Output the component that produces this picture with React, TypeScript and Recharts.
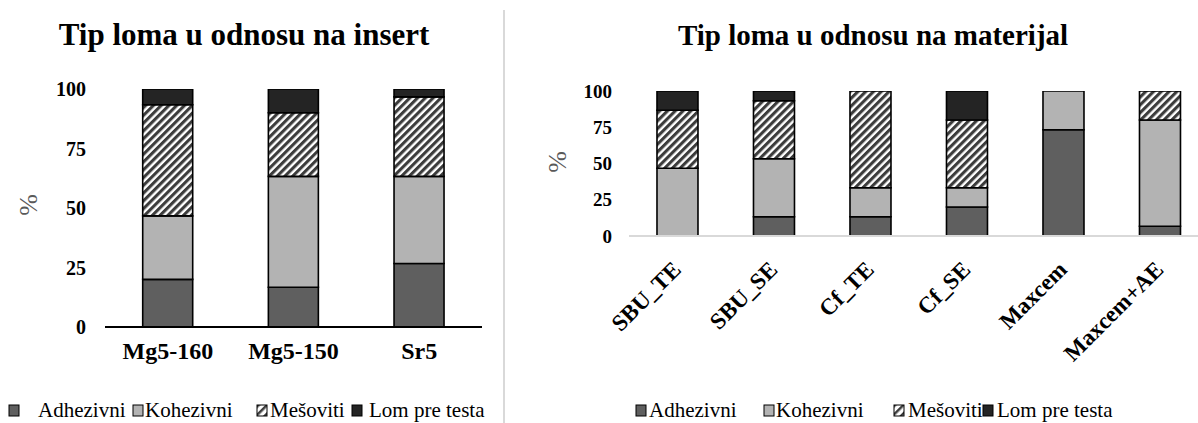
import React from 'react';
import { BarChart, Bar, XAxis, YAxis } from 'recharts';

// Share of failure types (%) per insert
const insertCategories = ['Mg5-160', 'Mg5-150', 'Sr5'];
const insertAdhezivni = [20, 16.7, 26.7];
const insertKohezivni = [26.7, 46.6, 36.6];
const insertMesoviti = [46.7, 26.7, 33.4];
const insertLom = [6.6, 10, 3.3];

// Share of failure types (%) per material
const materialCategories = ['SBU_TE', 'SBU_SE', 'Cf_TE', 'Cf_SE', 'Maxcem', 'Maxcem+AE'];
const materialAdhezivni = [0, 13.3, 13.3, 20, 73.3, 6.7];
const materialKohezivni = [46.7, 40, 20, 13.3, 26.7, 73.3];
const materialMesoviti = [40, 40, 66.7, 46.7, 0, 20];
const materialLom = [13.3, 6.7, 0, 20, 0, 0];

const seriesNames = ['Adhezivni', 'Kohezivni', 'Mešoviti', 'Lom pre testa'];
const percentTicks = [0, 25, 50, 75, 100];

const FONT = '"Liberation Serif", "Times New Roman", serif';
const ADH = '#5f5f5f';
const KOH = '#b3b3b3';
const LOM = '#242424';
const HATCH = 'url(#hatchMesoviti)';
const seriesFills = [ADH, KOH, HATCH, LOM];

const buildRows = (cats: string[], a: number[], k: number[], m: number[], l: number[]) =>
  cats.map((name, i) => ({ name, adh: a[i], koh: k[i], mes: m[i], lom: l[i] }));

const insertRows = buildRows(insertCategories, insertAdhezivni, insertKohezivni, insertMesoviti, insertLom);
const materialRows = buildRows(materialCategories, materialAdhezivni, materialKohezivni, materialMesoviti, materialLom);

const seriesKeys = ['adh', 'koh', 'mes', 'lom'];

const renderBars = () =>
  seriesKeys.map((key, i) => (
    <Bar
      key={key}
      dataKey={key}
      name={seriesNames[i]}
      stackId="s"
      fill={seriesFills[i]}
      stroke="#000"
      strokeWidth={1.6}
      isAnimationActive={false}
    />
  ));

const MaterialTick = (props: any) => {
  const { x, y, payload } = props;
  const ax = 5;
  const ay = 35;
  return (
    <g transform={`translate(${x},${y})`}>
      <text
        x={ax}
        y={ay}
        transform={`rotate(-45, ${ax}, ${ay})`}
        textAnchor="end"
        fontFamily={FONT}
        fontWeight="bold"
        fontSize={23}
        fill="#000"
      >
        {payload.value}
      </text>
    </g>
  );
};

const tickStyle = { fontFamily: FONT, fontWeight: 'bold' as const, fill: '#000' };

type LegendItem = { sq: number; tx: number };
const leftLegend: LegendItem[] = [
  { sq: 9, tx: 38 },
  { sq: 133, tx: 145 },
  { sq: 257, tx: 270 },
  { sq: 352, tx: 369 },
];
const rightLegend: LegendItem[] = [
  { sq: 636, tx: 649 },
  { sq: 764, tx: 776 },
  { sq: 894, tx: 908 },
  { sq: 983, tx: 997 },
];

const renderLegend = (items: LegendItem[], prefix: string) =>
  items.map((it, i) => (
    <g key={prefix + i}>
      <rect
        x={it.sq}
        y={405}
        width={10}
        height={11}
        fill={i === 2 ? 'url(#hatchLegend)' : seriesFills[i]}
        stroke="#000"
        strokeWidth={1}
      />
      <text x={it.tx} y={417} fontFamily={FONT} fontSize={21} fill="#000">
        {seriesNames[i]}
      </text>
    </g>
  ));

export default function App() {
  return (
    <div
      style={{
        position: 'fixed',
        left: 0,
        top: 0,
        width: 1198,
        height: 423,
        overflow: 'hidden',
        background: '#fff',
        fontFamily: FONT,
      }}
    >
      <svg
        width={1198}
        height={423}
        style={{ position: 'absolute', left: 0, top: 0, pointerEvents: 'none' }}
      >
        <defs>
          <pattern
            id="hatchMesoviti"
            patternUnits="userSpaceOnUse"
            width={5.5}
            height={5.5}
            patternTransform="rotate(45)"
          >
            <rect width={5.5} height={5.5} fill="#fff" />
            <rect width={3.1} height={5.5} fill="#3c3c3c" />
          </pattern>
          <pattern
            id="hatchLegend"
            patternUnits="userSpaceOnUse"
            width={6}
            height={6}
            patternTransform="rotate(45)"
          >
            <rect width={6} height={6} fill="#fff" />
            <rect width={2.5} height={6} fill="#3c3c3c" />
          </pattern>
        </defs>
      </svg>

      <div style={{ position: 'absolute', left: 0, top: 0 }}>
        <BarChart
          width={504}
          height={423}
          data={insertRows}
          margin={{ top: 89, right: 22, bottom: 66, left: 45 }}
          barCategoryGap="30%"
        >
          <XAxis
            dataKey="name"
            height={30}
            tickLine={false}
            tickSize={0}
            tickMargin={15}
            axisLine={{ stroke: '#000', strokeWidth: 2 }}
            tick={{ ...tickStyle, fontSize: 24 }}
          />
          <YAxis
            width={60}
            domain={[0, 100]}
            ticks={percentTicks}
            allowDataOverflow
            axisLine={false}
            tickLine={false}
            tickSize={0}
            tickMargin={19}
            tick={{ ...tickStyle, fontSize: 20 }}
          />
          {renderBars()}
        </BarChart>
      </div>

      <div style={{ position: 'absolute', left: 504, top: 0 }}>
        <BarChart
          width={704}
          height={423}
          data={materialRows}
          margin={{ top: 91, right: 0, bottom: 87, left: 65 }}
          barCategoryGap="29%"
        >
          <XAxis
            dataKey="name"
            height={100}
            interval={0}
            tickLine={false}
            tickSize={0}
            tickMargin={0}
            axisLine={{ stroke: '#d9d9d9', strokeWidth: 2 }}
            tick={<MaterialTick />}
          />
          <YAxis
            width={60}
            domain={[0, 100]}
            ticks={percentTicks}
            allowDataOverflow
            axisLine={false}
            tickLine={false}
            tickSize={0}
            tickMargin={17}
            tick={{ ...tickStyle, fontSize: 19 }}
          />
          {renderBars()}
        </BarChart>
      </div>

      <svg
        width={1198}
        height={423}
        style={{ position: 'absolute', left: 0, top: 0, pointerEvents: 'none' }}
      >
        <line x1={504} y1={10} x2={504} y2={423} stroke="#d9d9d9" strokeWidth={2} />
        <text x={244} y={45} textAnchor="middle" fontFamily={FONT} fontWeight="bold" fontSize={31} fill="#000">
          Tip loma u odnosu na insert
        </text>
        <text x={873} y={45} textAnchor="middle" fontFamily={FONT} fontWeight="bold" fontSize={29} fill="#000">
          Tip loma u odnosu na materijal
        </text>
        <text
          x={28}
          y={205}
          transform="rotate(-90, 28, 205)"
          textAnchor="middle"
          dominantBaseline="central"
          fontFamily={FONT}
          fontSize={26}
          fill="#595959"
        >
          %
        </text>
        <text
          x={557}
          y={162}
          transform="rotate(-90, 557, 162)"
          textAnchor="middle"
          dominantBaseline="central"
          fontFamily={FONT}
          fontSize={26}
          fill="#595959"
        >
          %
        </text>
        {renderLegend(leftLegend, 'l')}
        {renderLegend(rightLegend, 'r')}
      </svg>
    </div>
  );
}
